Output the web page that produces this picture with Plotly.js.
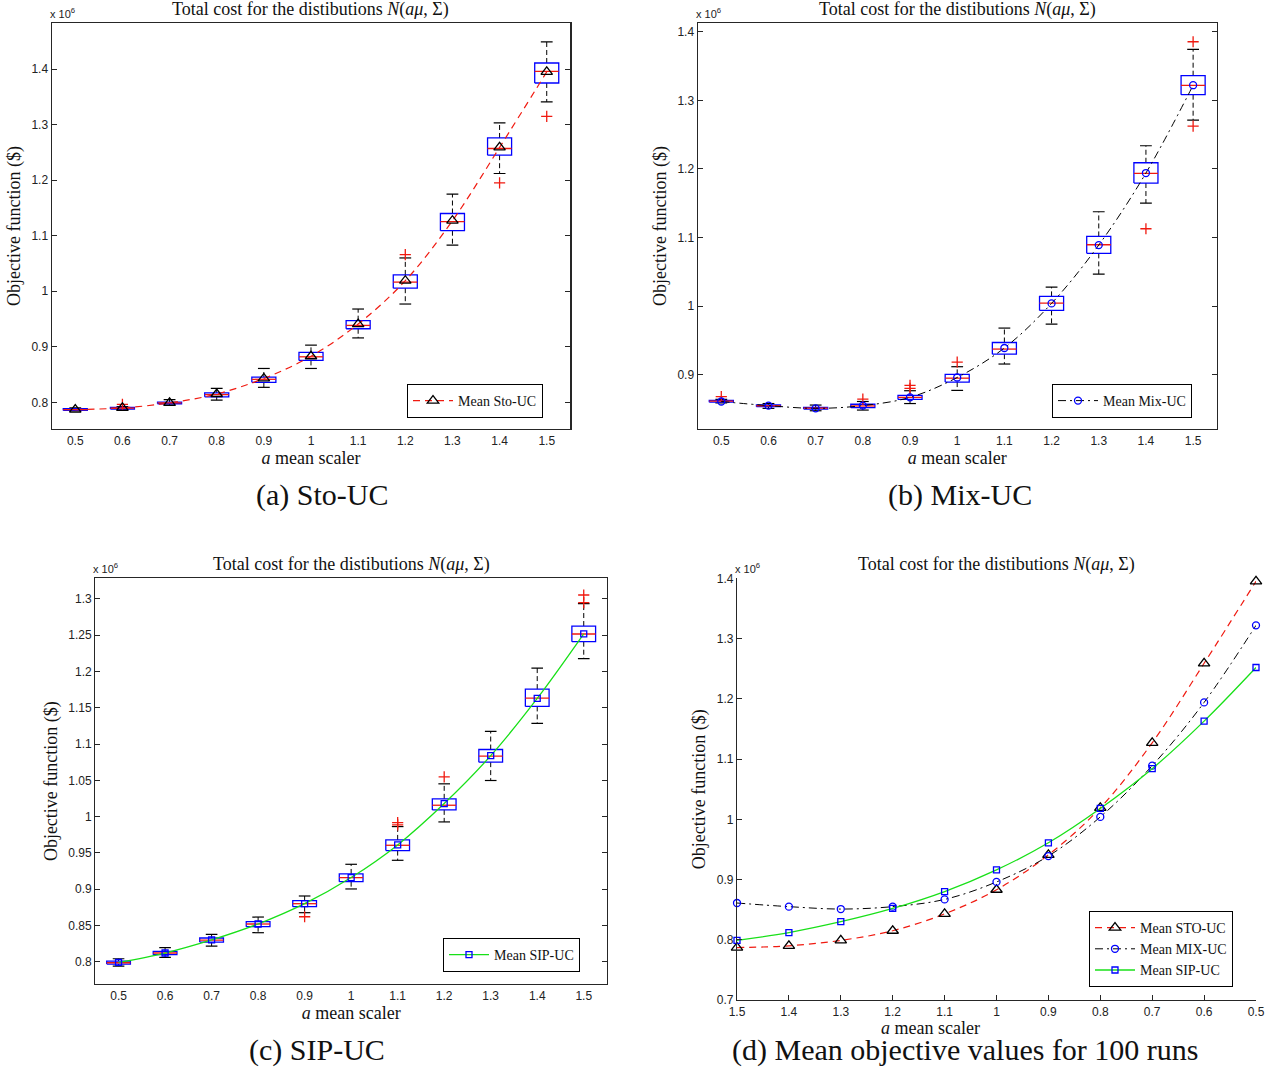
<!DOCTYPE html>
<html><head><meta charset="utf-8">
<script src="https://cdn.plot.ly/plotly-3.0.1.min.js"></script>
<style>html,body{margin:0;padding:0;background:#fff}#chart{width:1276px;height:1069px}</style>
</head><body><div id="chart"></div>
<script>
// ---------- data ----------
const scalers = [0.5, 0.6, 0.7, 0.8, 0.9, 1.0, 1.1, 1.2, 1.3, 1.4, 1.5];
const scalerLabels = ['0.5','0.6','0.7','0.8','0.9','1','1.1','1.2','1.3','1.4','1.5'];
const dPositions = [1.5, 1.4, 1.3, 1.2, 1.1, 1.0, 0.9, 0.8, 0.7, 0.6, 0.5];
const dLabels = ['1.5','1.4','1.3','1.2','1.1','1','0.9','0.8','0.7','0.6','0.5'];

// Sto-UC (x 1e6)
const stoQ1   = [0.7855, 0.7880, 0.7975, 0.8100, 0.8360, 0.8755, 0.9325, 1.0055, 1.1090, 1.2450, 1.3750];
const stoMed  = [0.7870, 0.7895, 0.7990, 0.8140, 0.8415, 0.8820, 0.9385, 1.0165, 1.1255, 1.2570, 1.3960];
const stoQ3   = [0.7885, 0.7910, 0.8005, 0.8170, 0.8455, 0.8900, 0.9470, 1.0295, 1.1400, 1.2760, 1.4110];
const stoLo   = [0.7845, 0.7865, 0.7950, 0.8040, 0.8270, 0.8610, 0.9160, 0.9770, 1.0830, 1.2120, 1.3410];
const stoHi   = [0.7900, 0.7925, 0.8050, 0.8250, 0.8610, 0.9030, 0.9680, 1.0600, 1.1750, 1.3030, 1.4490];
const stoMean = [0.7870, 0.7900, 0.7990, 0.8150, 0.8430, 0.8830, 0.9410, 1.0190, 1.1270, 1.2590, 1.3950];
const stoOutX = [0.6, 1.2, 1.4, 1.5];
const stoOutY = [0.7965, 1.0660, 1.1950, 1.3150];

// Mix-UC
const mixQ1   = [0.8600, 0.8535, 0.8500, 0.8520, 0.8640, 0.8893, 0.9300, 0.9938, 1.0769, 1.1794, 1.3082];
const mixMed  = [0.8615, 0.8548, 0.8513, 0.8545, 0.8670, 0.8950, 0.9374, 1.0045, 1.0895, 1.1935, 1.3218];
const mixQ3   = [0.8625, 0.8560, 0.8525, 0.8570, 0.8700, 0.9005, 0.9470, 1.0142, 1.1016, 1.2090, 1.3359];
const mixLo   = [0.8590, 0.8510, 0.8475, 0.8485, 0.8580, 0.8772, 0.9156, 0.9738, 1.0467, 1.1502, 1.2712];
const mixHi   = [0.8640, 0.8580, 0.8558, 0.8610, 0.8767, 0.9117, 0.9680, 1.0278, 1.1376, 1.2338, 1.3742];
const mixMean = [0.8610, 0.8550, 0.8510, 0.8550, 0.8670, 0.8960, 0.9390, 1.0040, 1.0890, 1.1940, 1.3220];
const mixOutX = [0.5, 0.8, 0.9, 0.9, 1.0, 1.4, 1.5, 1.5];
const mixOutY = [0.8680, 0.8645, 0.8845, 0.8800, 0.9185, 1.1128, 1.3854, 1.2625];

// SIP-UC
const sipQ1   = [0.7968, 0.8097, 0.8271, 0.8483, 0.8759, 0.9104, 0.9532, 1.0093, 1.0751, 1.1519, 1.2411];
const sipMed  = [0.7986, 0.8120, 0.8299, 0.8520, 0.8800, 0.9159, 0.9605, 1.0157, 1.0834, 1.1634, 1.2517];
const sipQ3   = [0.8009, 0.8143, 0.8327, 0.8552, 0.8842, 0.9210, 0.9679, 1.0245, 1.0925, 1.1758, 1.2627];
const sipLo   = [0.7940, 0.8060, 0.8216, 0.8400, 0.8676, 0.9003, 0.9398, 0.9927, 1.0498, 1.1284, 1.2177];
const sipHi   = [0.8041, 0.8193, 0.8377, 0.8616, 0.8906, 0.9343, 0.9863, 1.0452, 1.1174, 1.2048, 1.2936];
const sipMean = [0.7990, 0.8120, 0.8300, 0.8520, 0.8800, 0.9160, 0.9610, 1.0180, 1.0840, 1.1630, 1.2520];
const sipOutX = [0.9, 1.1, 1.1, 1.2, 1.5, 1.5];
const sipOutY = [0.8620, 0.9918, 0.9886, 1.0548, 1.3055, 1.2950];

// ---------- style ----------
const SERIF = 'Liberation Serif, Times New Roman, serif';
const SANS = 'Liberation Sans, Arial, sans-serif';
const BOX_HALF = 0.0255, CAP_HALF = 0.0125;
const RED = '#f01a10', BLUE = '#0000ff', GREEN = '#18e018';

function boxTraces(q1, med, q3, lo, hi, outX, outY, xa, ya) {
  const wx = [], wy = [], cx = [], cy = [], bx = [], by = [], mx = [], my = [];
  scalers.forEach((x, i) => {
    wx.push(x, x, null, x, x, null); wy.push(q3[i], hi[i], null, q1[i], lo[i], null);
    cx.push(x - CAP_HALF, x + CAP_HALF, null, x - CAP_HALF, x + CAP_HALF, null);
    cy.push(hi[i], hi[i], null, lo[i], lo[i], null);
    bx.push(x - BOX_HALF, x + BOX_HALF, x + BOX_HALF, x - BOX_HALF, x - BOX_HALF, null);
    by.push(q1[i], q1[i], q3[i], q3[i], q1[i], null);
    mx.push(x - BOX_HALF, x + BOX_HALF, null); my.push(med[i], med[i], null);
  });
  const base = {type: 'scatter', mode: 'lines', xaxis: xa, yaxis: ya, showlegend: false, hoverinfo: 'skip'};
  return [
    Object.assign({}, base, {x: wx, y: wy, line: {color: '#000', width: 1, dash: '5px,3px'}}),
    Object.assign({}, base, {x: cx, y: cy, line: {color: '#000', width: 1.2}}),
    Object.assign({}, base, {x: bx, y: by, line: {color: BLUE, width: 1.3}}),
    Object.assign({}, base, {x: mx, y: my, line: {color: RED, width: 1.3}}),
    {type: 'scatter', mode: 'markers', x: outX, y: outY, xaxis: xa, yaxis: ya, showlegend: false,
     marker: {symbol: 'cross-thin-open', size: 8, color: RED, line: {color: RED, width: 1.3}}}
  ];
}

const stoStyle = {line: {color: RED, width: 1.2, dash: '7px,5px', shape: 'spline'},
  marker: {symbol: 'triangle-up-open', size: 10, color: '#000', line: {color: '#000', width: 1.3}}};
const mixStyle = {line: {color: '#000', width: 1, dash: '8px,4px,2px,4px', shape: 'spline'},
  marker: {symbol: 'circle-open', size: 7, color: BLUE, line: {color: BLUE, width: 1.3}}};
const sipStyle = {line: {color: GREEN, width: 1.3, shape: 'spline'},
  marker: {symbol: 'square-open', size: 6, color: BLUE, line: {color: BLUE, width: 1.3}}};

function meanTrace(x, y, style, name, xa, ya, leg) {
  return Object.assign({type: 'scatter', mode: 'lines+markers', x: x, y: y, name: name,
    xaxis: xa, yaxis: ya, legend: leg, cliponaxis: false}, JSON.parse(JSON.stringify(style)));
}

const traces = [].concat(
  boxTraces(stoQ1, stoMed, stoQ3, stoLo, stoHi, stoOutX, stoOutY, 'x', 'y'),
  [meanTrace(scalers, stoMean, stoStyle, 'Mean Sto-UC', 'x', 'y', 'legend')],
  boxTraces(mixQ1, mixMed, mixQ3, mixLo, mixHi, mixOutX, mixOutY, 'x2', 'y2'),
  [meanTrace(scalers, mixMean, mixStyle, 'Mean Mix-UC', 'x2', 'y2', 'legend2')],
  boxTraces(sipQ1, sipMed, sipQ3, sipLo, sipHi, sipOutX, sipOutY, 'x3', 'y3'),
  [meanTrace(scalers, sipMean, sipStyle, 'Mean SIP-UC', 'x3', 'y3', 'legend3')],
  [meanTrace(dPositions, stoMean, stoStyle, 'Mean STO-UC', 'x4', 'y4', 'legend4'),
   meanTrace(dPositions, mixMean, mixStyle, 'Mean MIX-UC', 'x4', 'y4', 'legend4'),
   meanTrace(dPositions, sipMean, sipStyle, 'Mean SIP-UC', 'x4', 'y4', 'legend4')]
);

// ---------- layout ----------
const W = 1276, H = 1069;
const px = v => v / W, py = v => 1 - v / H;
const doms = {
  a: {x: [px(51.7), px(570.3)], y: [py(429), py(23)]},
  b: {x: [px(697.7), px(1216.7)], y: [py(429), py(23)]},
  c: {x: [px(95.3), px(607)], y: [py(984), py(578.3)]},
  d: {x: [px(737), px(1256)], y: [py(1000), py(578.3)]}
};
const tickFont = {family: SANS, size: 12, color: '#222'};
const titleFont = {family: SERIF, size: 18, color: '#111'};
const xTitle = '<i>a</i> mean scaler';

function xAx(dom, anchor) {
  return {domain: dom, anchor: anchor, range: [0.45, 1.55], tickmode: 'array', tickvals: scalers,
    ticktext: scalerLabels, ticks: '', showline: true, linecolor: '#262626', linewidth: 1.2,
    mirror: true, showgrid: false, zeroline: false, tickfont: tickFont, ticklabelstandoff: 0,
    title: {text: xTitle, font: titleFont, standoff: 0}};
}
function yAx(dom, anchor, range, dtick) {
  return {domain: dom, anchor: anchor, range: range, tick0: 0.7, dtick: dtick, ticks: 'inside',
    ticklen: 5, tickcolor: '#262626', showline: true, linecolor: '#262626', linewidth: 1.2,
    mirror: 'ticks', showgrid: false, zeroline: false, tickfont: tickFont,
    title: {text: 'Objective function ($)', font: titleFont, standoff: 6}};
}

const layout = {
  width: W, height: H, margin: {l: 0, r: 0, t: 0, b: 0}, paper_bgcolor: '#fff', plot_bgcolor: '#fff',
  showlegend: true,
  xaxis: xAx(doms.a.x, 'y'), yaxis: yAx(doms.a.y, 'x', [0.752, 1.483], 0.1),
  xaxis2: xAx(doms.b.x, 'y2'), yaxis2: yAx(doms.b.y, 'x2', [0.8209, 1.4127], 0.1),
  xaxis3: xAx(doms.c.x, 'y3'), yaxis3: yAx(doms.c.y, 'x3', [0.7693, 1.3285], 0.05),
  xaxis4: Object.assign(xAx(doms.d.x, 'y4'), {range: [1.5, 0.5], tickvals: dPositions, ticktext: dLabels,
    ticks: 'inside', ticklen: 5, tickcolor: '#262626', mirror: false, title: {text: ''}}),
  yaxis4: Object.assign(yAx(doms.d.y, 'x4', [0.7, 1.4001], 0.1), {mirror: false}),
  annotations: [],
  legend: {}, legend2: {}, legend3: {}, legend4: {}
};

const legBase = {xanchor: 'right', yanchor: 'bottom', bgcolor: '#fff', bordercolor: '#000', borderwidth: 1,
  font: {family: SERIF, size: 14, color: '#111'}, itemwidth: 40, tracegroupgap: 0};
layout.legend = Object.assign({}, legBase, {x: px(543), y: py(418)});
layout.legend2 = Object.assign({}, legBase, {x: px(1192), y: py(418)});
layout.legend3 = Object.assign({}, legBase, {x: px(580), y: py(972)});
layout.legend4 = Object.assign({}, legBase, {x: px(1233), y: py(987)});

const titleText = 'Total cost for the distibutions <i>N</i>(<i>aμ</i>, Σ)';
const captions = {a: '(a) Sto-UC', b: '(b) Mix-UC', c: '(c) SIP-UC', d: '(d) Mean objective values for 100 runs'};
const captionPos = {a: [322, 495], b: [960, 495], c: [317, 1050], d: [965, 1050]};
['a', 'b', 'c', 'd'].forEach(k => {
  const d = doms[k];
  layout.annotations.push({xref: 'paper', yref: 'paper', x: (d.x[0] + d.x[1]) / 2, y: d.y[1],
    xanchor: 'center', yanchor: 'middle', yshift: 14, showarrow: false, text: titleText, font: titleFont});
  layout.annotations.push({xref: 'paper', yref: 'paper', x: d.x[0], y: d.y[1], xanchor: 'left',
    yanchor: 'bottom', xshift: -4, yshift: 1, showarrow: false, text: 'x 10<sup>6</sup>',
    font: {family: SANS, size: 11, color: '#222'}});
  layout.annotations.push({xref: 'paper', yref: 'paper', x: px(captionPos[k][0]), y: py(captionPos[k][1]),
    xanchor: 'center', yanchor: 'middle', showarrow: false, text: captions[k],
    font: {family: SERIF, size: 30, color: '#111'}});
});
// x-axis title of panel (d) sits left of centre in the reference
layout.annotations.push({xref: 'paper', yref: 'paper', x: px(931), y: py(1028), xanchor: 'center',
  yanchor: 'middle', showarrow: false, text: xTitle, font: titleFont});

Plotly.newPlot('chart', traces, layout, {displayModeBar: false, staticPlot: true});
</script></body></html>
